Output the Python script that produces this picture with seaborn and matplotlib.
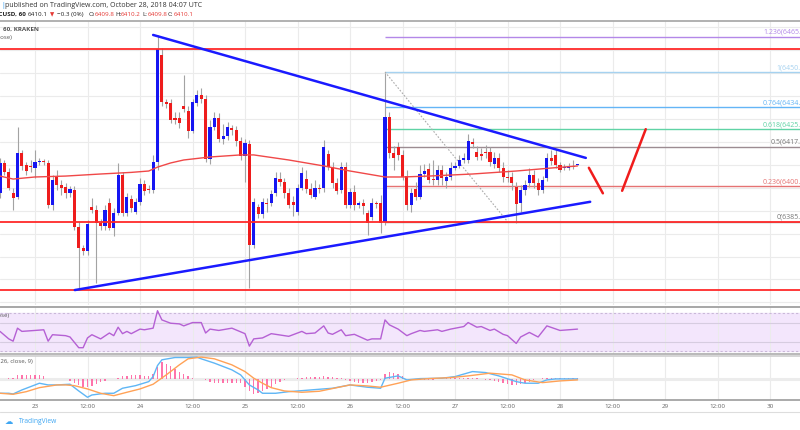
import matplotlib.pyplot as plt
import seaborn as sns

# ---- data (hour 0 = 23 Oct 2018 00:00 UTC, BTCUSD 60 min, Kraken) ----
candle_hours = list(range(-8, 125))
opens = [
    6397.6, 6410.7, 6406.8, 6397.6, 6395.9, 6415.0, 6409.8, 6409.4,
    6408.5, 6411.1, 6411.6, 6410.7, 6392.4, 6404.6, 6401.1, 6400.2, 6397.6, 6398.9,
    6382.8, 6373.7, 6372.4, 6391.5, 6390.2, 6384.6, 6383.3, 6393.3, 6382.4, 6388.9,
    6405.5, 6388.9, 6395.0, 6389.4, 6393.7, 6401.5, 6399.4, 6398.9, 6411.1, 6457.7,
    6437.2, 6436.8, 6430.3, 6430.3, 6435.5, 6433.3, 6424.6, 6436.8, 6440.3, 6438.6,
    6412.4, 6426.4, 6430.3, 6421.1, 6422.4, 6425.9, 6425.1, 6420.3, 6413.7, 6419.0,
    6375.0, 6391.5, 6388.5, 6393.3, 6393.3, 6397.6, 6403.7, 6402.4, 6397.6, 6393.7,
    6389.4, 6399.8, 6403.7, 6399.4, 6395.9, 6399.8, 6399.8, 6414.6, 6408.9, 6402.0,
    6398.9, 6408.9, 6392.4, 6398.1, 6392.4, 6393.3, 6388.9, 6387.2, 6393.3, 6393.3,
    6385.0, 6430.7, 6415.0, 6417.7, 6414.2, 6405.0, 6392.4, 6399.4, 6395.9, 6405.9,
    6408.1, 6403.7, 6403.3, 6407.6, 6402.9, 6404.6, 6408.5, 6409.4, 6412.0, 6412.0,
    6419.8, 6415.5, 6414.6, 6415.5, 6415.5, 6410.3, 6412.9, 6408.5, 6404.6, 6404.6,
    6400.2, 6393.3, 6398.9, 6402.0, 6405.5, 6402.0, 6398.9, 6404.2, 6412.9, 6414.2,
    6409.8, 6408.5, 6408.5, 6409.4, 6409.8,
]
highs = [
    6412.9, 6412.0, 6408.5, 6399.8, 6426.4, 6416.3, 6411.1, 6412.0,
    6416.3, 6412.9, 6412.4, 6412.0, 6405.5, 6407.6, 6403.3, 6402.0, 6400.7, 6400.7,
    6385.0, 6375.0, 6385.9, 6395.4, 6392.4, 6386.3, 6392.4, 6395.4, 6391.1, 6410.7,
    6406.8, 6397.6, 6396.8, 6395.4, 6404.2, 6403.3, 6401.1, 6414.2, 6466.4, 6460.8,
    6438.6, 6438.6, 6432.9, 6432.9, 6449.0, 6435.5, 6438.6, 6442.5, 6443.4, 6440.3,
    6429.4, 6432.9, 6432.4, 6427.6, 6428.5, 6427.2, 6426.8, 6422.0, 6421.1, 6420.7,
    6395.4, 6392.8, 6395.4, 6395.4, 6398.9, 6406.8, 6406.8, 6404.2, 6399.8, 6396.3,
    6401.5, 6409.0, 6407.6, 6402.0, 6403.3, 6401.5, 6420.7, 6416.3, 6411.1, 6404.2,
    6411.1, 6411.1, 6399.8, 6401.1, 6394.1, 6395.0, 6390.2, 6395.4, 6394.1, 6396.8,
    6450.0, 6432.9, 6418.1, 6420.0, 6416.3, 6407.6, 6399.8, 6402.4, 6409.8, 6410.3,
    6410.7, 6412.0, 6409.8, 6409.8, 6406.8, 6411.1, 6411.1, 6414.2, 6415.0, 6423.3,
    6421.6, 6418.1, 6417.2, 6418.5, 6417.7, 6415.5, 6415.0, 6411.1, 6407.6, 6406.8,
    6402.4, 6401.1, 6403.3, 6408.5, 6407.6, 6404.2, 6405.0, 6415.0, 6416.3, 6416.3,
    6411.1, 6410.3, 6410.7, 6412.0, 6410.2,
]
lows = [
    6395.4, 6405.5, 6398.9, 6390.2, 6395.0, 6407.6, 6405.5, 6406.8,
    6404.2, 6409.8, 6409.8, 6391.1, 6390.2, 6398.9, 6396.8, 6395.4, 6395.9, 6381.5,
    6355.4, 6370.6, 6370.6, 6388.9, 6358.4, 6381.5, 6381.5, 6381.5, 6378.9, 6388.0,
    6387.6, 6387.6, 6389.4, 6388.5, 6392.4, 6396.8, 6397.6, 6397.6, 6407.6, 6435.5,
    6434.6, 6428.1, 6427.6, 6425.9, 6432.9, 6421.6, 6423.7, 6435.5, 6436.8, 6411.1,
    6410.3, 6425.1, 6419.8, 6418.9, 6420.7, 6423.0, 6418.1, 6412.0, 6402.4, 6356.3,
    6373.7, 6386.8, 6386.8, 6389.4, 6392.0, 6396.3, 6400.7, 6395.4, 6391.1, 6387.6,
    6388.0, 6398.9, 6397.6, 6395.4, 6395.0, 6397.6, 6398.1, 6407.6, 6399.8, 6397.2,
    6397.6, 6391.1, 6391.1, 6390.2, 6391.1, 6388.5, 6379.3, 6385.9, 6391.1, 6380.2,
    6383.7, 6412.9, 6407.6, 6412.0, 6403.3, 6390.2, 6389.4, 6394.6, 6395.0, 6404.6,
    6402.0, 6401.1, 6401.1, 6401.1, 6399.8, 6403.3, 6407.6, 6408.5, 6410.7, 6410.7,
    6417.2, 6412.0, 6412.0, 6412.9, 6409.4, 6408.5, 6406.8, 6402.4, 6402.4, 6398.9,
    6384.6, 6389.4, 6396.8, 6400.2, 6399.8, 6396.8, 6397.6, 6402.9, 6409.8, 6408.5,
    6406.8, 6407.6, 6407.6, 6408.1, 6409.8,
]
closes = [
    6410.7, 6406.8, 6399.8, 6395.4, 6415.0, 6409.4, 6407.2, 6408.9,
    6411.1, 6411.6, 6411.1, 6392.4, 6403.3, 6401.1, 6399.8, 6397.6, 6399.4, 6382.8,
    6373.7, 6372.4, 6384.1, 6390.2, 6384.6, 6383.3, 6390.2, 6382.4, 6388.9, 6405.5,
    6388.9, 6395.9, 6391.1, 6393.7, 6401.5, 6398.5, 6398.9, 6411.1, 6460.3, 6437.2,
    6436.3, 6429.4, 6429.4, 6428.1, 6434.2, 6424.6, 6437.2, 6440.3, 6438.6, 6412.4,
    6426.4, 6430.3, 6421.1, 6422.4, 6426.4, 6425.1, 6420.3, 6413.7, 6419.4, 6375.0,
    6393.7, 6388.5, 6393.7, 6392.8, 6397.2, 6404.2, 6402.4, 6397.6, 6392.4, 6392.4,
    6399.8, 6406.3, 6399.4, 6396.8, 6399.8, 6399.4, 6417.7, 6408.9, 6402.0, 6398.5,
    6408.9, 6392.4, 6398.1, 6392.4, 6393.3, 6392.0, 6384.6, 6393.3, 6392.8, 6384.6,
    6430.7, 6415.0, 6412.9, 6414.2, 6404.6, 6392.4, 6397.6, 6395.9, 6405.9, 6407.2,
    6403.3, 6403.3, 6407.6, 6404.2, 6404.6, 6408.5, 6409.4, 6412.0, 6412.9, 6420.3,
    6419.0, 6413.3, 6413.7, 6415.0, 6411.1, 6412.9, 6408.5, 6404.6, 6404.2, 6402.0,
    6392.8, 6398.9, 6401.1, 6405.5, 6402.0, 6398.9, 6403.3, 6412.9, 6411.6, 6409.8,
    6407.6, 6408.9, 6409.4, 6408.9, 6410.1,
]

# 100 SMA
ma_hours = [-8, -5, 0, 7, 15, 22, 26, 28, 31, 34, 40, 47, 50, 58, 66, 72, 80, 84, 90, 100, 110, 118, 124]
ma_values = [6405.0, 6403.7, 6404.6, 6405.0, 6405.9, 6406.6, 6407.2, 6408.9, 6410.7, 6412.0, 6413.3,
             6414.2, 6414.2, 6412.0, 6409.4, 6407.2, 6404.6, 6404.6, 6405.0, 6405.9, 6407.2, 6408.5, 6409.4]

# drawn objects
resistance_levels = [6460.5, 6385.0, 6355.4]
upper_trend = ([27.0, 125.9], [6466.4, 6412.9])
lower_trend = ([9.1, 126.9], [6355.4, 6393.8])
path_down = ([126.6, 129.8], [6408.6, 6397.5])
path_up = ([134.2, 139.6], [6398.6, 6425.4])
fib_start = 80
fib_ratios = ['0', '0.236', '0.5', '0.618', '0.764', '1', '1.236']
fib_levels = [6385.20, 6400.56, 6417.75, 6425.43, 6434.94, 6450.30, 6465.66]
fib_colors = ['#9a9a9a', '#e57373', '#9c8c92', '#5fd3a5', '#64b5f6', '#a6d2f0', '#b388e8']
fib_diag = ([80, 108], [6450.3, 6385.2])

# RSI (14)
rsi_hours = [-8, -6, -5, -4, -3, 0, 2, 3, 4, 7, 8, 10, 11, 12, 13, 15, 17, 18, 19, 20,
             21, 22, 24, 25, 27, 28, 29, 31, 33, 34, 36, 38, 39, 40, 42, 45, 48, 49, 50, 52,
             54, 57, 58, 61, 62, 64, 66, 67, 68, 70, 71, 73, 76, 77, 79, 80, 81, 83, 85, 86,
             88, 89, 92, 93, 95, 98, 99, 101, 102, 104, 105, 107, 108, 110, 111, 113, 115, 117, 120, 124]
rsi_values = [50.9, 43.0, 40.6, 54.3, 50.9, 51.9, 52.6, 40.6, 47.4, 46.4, 45.0, 33.7, 33.7, 44.0, 47.4,
              43.0, 49.2, 46.4, 55.3, 48.5, 50.9, 48.5, 53.3, 52.6, 54.3, 72.7, 63.0, 59.5, 58.8, 56.7,
              60.2, 60.2, 49.2, 53.3, 51.9, 54.3, 48.5, 35.4, 43.0, 44.0, 48.5, 46.4, 45.7, 50.9, 48.5,
              49.2, 56.7, 49.2, 47.8, 52.6, 46.4, 47.8, 41.6, 43.0, 43.0, 63.0, 57.8, 53.3, 46.4, 48.5,
              51.9, 50.9, 52.6, 50.9, 53.3, 56.0, 60.2, 55.3, 56.0, 51.9, 53.3, 47.8, 46.4, 38.2, 45.0,
              49.8, 45.0, 56.7, 51.9, 53.3]

# MACD (12, 26, close, 9)
macd_hours = [-8, -6, -5, -3, 0, 1, 3, 5, 8, 10, 12, 13, 16, 18, 20, 23, 26, 27, 28, 29, 32, 35, 37,
              38, 41, 45, 47, 49, 51, 52, 55, 58, 61, 65, 68, 72, 76, 79, 80, 83, 85, 88, 93, 96, 100,
              103, 106, 110, 112, 115, 117, 119, 124]
macd_values = [-7.0, -7.0, -7.35, -5.35, -2.85, -2.0, -2.85, -2.85, -2.5, -5.85, -9.0, -7.85, -7.0, -7.0,
               -4.5, -3.2, -1.2, 1.3, 6.8, 9.65, 10.8, 10.8, 11.0, 10.15, 8.0, 4.65, 2.15, -2.85, -5.35,
               -7.0, -7.0, -6.2, -5.7, -5.0, -4.5, -2.85, -4.0, -4.5, 0.5, 1.65, -0.35, 0.3, 0.5, 1.3,
               3.8, 3.3, 1.65, -1.2, -2.0, -2.0, -0.35, 0.15, 0.15]
signal_hours = [-8, -5, -2, 1, 5, 7, 9, 12, 15, 18, 21, 24, 27, 30, 33, 35, 38, 41, 45, 48, 50, 52, 54,
                57, 61, 65, 72, 76, 79, 83, 86, 90, 95, 99, 104, 109, 112, 116, 120, 124]
signal_values = [-7.0, -7.5, -6.2, -4.2, -2.85, -2.85, -3.2, -4.85, -7.0, -8.2, -6.5, -4.85, -2.5, 2.15,
                 7.15, 10.15, 11.0, 10.15, 7.15, 3.8, 0.5, -2.0, -4.2, -5.85, -6.5, -6.0, -2.85, -3.35,
                 -4.0, -2.0, -0.35, 0.3, 0.8, 1.65, 3.0, 2.15, -0.35, -1.7, -0.85, -0.35]
hist_values = [
    0.3, 0.3, 0.4, 0.5, 2.0, 2.0, 2.0, 2.0,
    2.0, 2.0, 1.5, 0.3, 0.3, 0.2, 0.2, 0.3, -1.0, -2.0,
    -3.0, -3.8, -4.0, -3.2, -2.5, -1.5, -1.0, 0.3, 0.3, 0.5,
    1.5, 1.8, 2.0, 2.0, 2.0, 1.8, 1.8, 2.5, 6.0, 8.5,
    7.5, 6.5, 5.0, 3.5, 2.5, 1.5, 0.5, 0.3, 0.2, -0.2,
    -1.5, -1.8, -2.0, -2.0, -2.0, -1.8, -2.0, -2.0, -4.0, -6.0,
    -7.5, -7.0, -6.0, -5.0, -4.0, -2.5, -1.5, -0.5, 0.2, 0.3,
    0.5, 0.8, 1.0, 1.2, 1.3, 1.3, 1.5, 1.2, 1.0, 0.8,
    0.5, -0.5, -1.0, -1.5, -1.8, -2.0, -2.0, -1.5, -1.0, -0.5,
    2.5, 3.5, 3.2, 2.5, 1.5, 0.3, 0.2, -0.2, -0.3, -0.3,
    -0.3, -0.2, 0.2, 0.3, 0.5, 0.5, 0.8, 0.8, 0.8, 0.8,
    0.8, 0.5, 0.3, -0.3, -0.5, -1.0, -1.5, -2.0, -2.5, -3.0,
    -3.0, -2.5, -2.0, -1.5, -0.5, 0.3, 0.8, 0.8, 0.8, 0.8,
    0.8, 0.8, 0.8, 0.8, 0.5,
]

tick_hours = list(range(0, 169, 12))
tick_labels = ['23', '12:00', '24', '12:00', '25', '12:00', '26', '12:00',
               '27', '12:00', '28', '12:00', '29', '12:00', '30']

# ---- style ----
sns.set_theme(style="white")
plt.rcParams['font.family'] = ['Open Sans', 'DejaVu Sans']

UP, DOWN = '#1616f2', '#ee1c1c'
GRID = '#ebebeb'
W, H = 800, 430
X0, PX_PER_HOUR = 35, 4.375

fig = plt.figure(figsize=(W / 100, H / 100), dpi=100)
fig.patch.set_facecolor('white')


def pane(top, bottom):
    a = fig.add_axes([0, 1 - bottom / H, 1, (bottom - top) / H])
    a.set_xlim(-X0 / PX_PER_HOUR, (W - X0) / PX_PER_HOUR)
    a.set_xticks(tick_hours)
    a.grid(True, color=GRID, lw=0.8)
    a.set_axisbelow(True)
    a.tick_params(length=0, labelbottom=False, labelleft=False)
    for s in a.spines.values():
        s.set_visible(False)
    return a


def ftext(x, y, s, **kw):
    kw.setdefault('va', 'center')
    fig.text(x / W, 1 - y / H, s, **kw)


# ---- price pane ----
ax = pane(20.7, 305)
ax.set_ylim(6348.9, 6472.6)
ax.set_yticks(range(6350, 6471, 10))
ax.spines['top'].set_visible(True)
ax.spines['top'].set_color('#a8a8a8')

for lvl, col in zip(fib_levels, fib_colors):
    ax.hlines(lvl, fib_start, 190, color=col, lw=1.0, zorder=2)
sns.lineplot(x=fib_diag[0], y=fib_diag[1], ax=ax, color='#aaaaaa', lw=0.8,
             linestyle=(0, (1.5, 1.5)), zorder=2)

body_bottom = [min(o, c) for o, c in zip(opens, closes)]
body_height = [max(abs(c - o), 0.35) for o, c in zip(opens, closes)]
body_color = [UP if c >= o else DOWN for o, c in zip(opens, closes)]
ax.vlines(candle_hours, lows, highs, color='#a3a3a3', lw=0.8, zorder=3)
ax.bar(candle_hours, body_height, bottom=body_bottom, width=0.74,
       color=body_color, linewidth=0, zorder=4)

sns.lineplot(x=ma_hours, y=ma_values, ax=ax, color='#f04848', lw=1.0, zorder=5)
for lvl in resistance_levels:
    ax.axhline(lvl, color='#ff2a2a', lw=1.3, zorder=5)
for xs, ys in (upper_trend, lower_trend):
    sns.lineplot(x=xs, y=ys, ax=ax, color='#1a1aff', lw=1.8, zorder=6)
for xs, ys in (path_down, path_up):
    sns.lineplot(x=xs, y=ys, ax=ax, color='#f01c1c', lw=1.8, zorder=6)

# fib labels run past the right edge, as in the screenshot
label_x = (811 - X0) / PX_PER_HOUR
for r, lvl, col in zip(fib_ratios, fib_levels, fib_colors):
    txt_col = '#777777' if r in ('0', '0.5') else col
    ax.text(label_x, lvl + 0.4, f'{r}({lvl:.2f})', ha='right', va='bottom',
            fontsize=5.0, color=txt_col, clip_on=True, zorder=7)

# ---- RSI pane ----
ax_rsi = pane(307, 353.5)
ax_rsi.set_ylim(27.6, 76.6)
ax_rsi.set_yticks([40, 60])
ax_rsi.grid(True, axis='y', color='#d6cce0', lw=0.8)
ax_rsi.spines['top'].set_visible(True)
ax_rsi.spines['top'].set_color('#a0a0a0')
ax_rsi.spines['top'].set_linewidth(1.3)
ax_rsi.spines['bottom'].set_visible(True)
ax_rsi.spines['bottom'].set_color('#b0b0b0')
ax_rsi.axhspan(30, 70, color='#f3e6fc', zorder=0)
for lvl in (30, 70):
    ax_rsi.axhline(lvl, color='#c9b8d8', lw=0.8, linestyle=(0, (2, 2)))
sns.lineplot(x=rsi_hours, y=rsi_values, ax=ax_rsi, color='#b560d4', lw=1.0)

# ---- MACD pane ----
ax_macd = pane(355.5, 400)
ax_macd.set_ylim(-10.35, 11.8)
ax_macd.set_yticks([])
ax_macd.spines['top'].set_visible(True)
ax_macd.spines['top'].set_color('#d0d0d0')
ax_macd.spines['bottom'].set_visible(True)
ax_macd.spines['bottom'].set_color('#a0a0a0')
ax_macd.axhline(0, color='#ececec', lw=2.2, zorder=1)
ax_macd.bar(candle_hours, hist_values, width=0.32, color='#ff5c9d', alpha=0.85,
            linewidth=0, zorder=2)
sns.lineplot(x=macd_hours, y=macd_values, ax=ax_macd, color='#5fb6f5', lw=1.0, zorder=3)
sns.lineplot(x=signal_hours, y=signal_values, ax=ax_macd, color='#ffa257', lw=1.0, zorder=3)
ax_macd.tick_params(labelbottom=True, pad=3)
ax_macd.set_xticklabels(tick_labels, fontsize=4.5, color='#666666')

for a in (ax, ax_rsi, ax_macd):
    a.set_xlabel('')
    a.set_ylabel('')

# ---- header / labels ----
ftext(1.5, 5.5, '|', fontsize=5, color='#2196f3')
ftext(5, 5.5, 'published on TradingView.com, October 28, 2018 04:07 UTC', fontsize=5.0, color='#333333')
ftext(26, 14.5, 'BTCUSD, 60', fontsize=4.5, color='#222222', ha='right', fontweight='bold')
ftext(28, 14.5, '6410.1', fontsize=4.5, color='#222222')
ftext(50, 14.5, '\u25bc', fontsize=4.0, color='#e53935', family='DejaVu Sans')
ftext(57, 14.5, '\u22120.3 (0%)', fontsize=4.5, color='#222222')
pieces = [(89, 'O:', '6409.8'), (115, 'H:', '6410.2'), (142, 'L:', '6409.8'), (168, 'C:', '6410.1')]
for x, k, v in pieces:
    ftext(x, 14.5, k, fontsize=4.5, color='#222222')
    ftext(x + 6, 14.5, v, fontsize=4.5, color='#e53935')

ftext(3, 29, '60, KRAKEN', fontsize=4.5, color='#555555', fontweight='bold')
ftext(12, 37.5, 'MA (100, close)', fontsize=4.3, color='#555555', ha='right')
ftext(9, 315.5, 'RSI (14, close)', fontsize=4.3, color='#555555', ha='right')
ftext(33, 362, 'MACD (12, 26, close, 9)', fontsize=4.3, color='#555555', ha='right')

fig.add_artist(plt.Line2D([0, 1], [1 - 412 / H] * 2, color='#dddddd', lw=0.8))
ftext(5, 421.5, '\u2601', fontsize=6, color='#3ea6f2', family='DejaVu Sans')
ftext(19, 421.5, 'TradingView', fontsize=4.8, color='#3ea6f2')

fig.savefig('out.png', dpi=100, facecolor='white')
